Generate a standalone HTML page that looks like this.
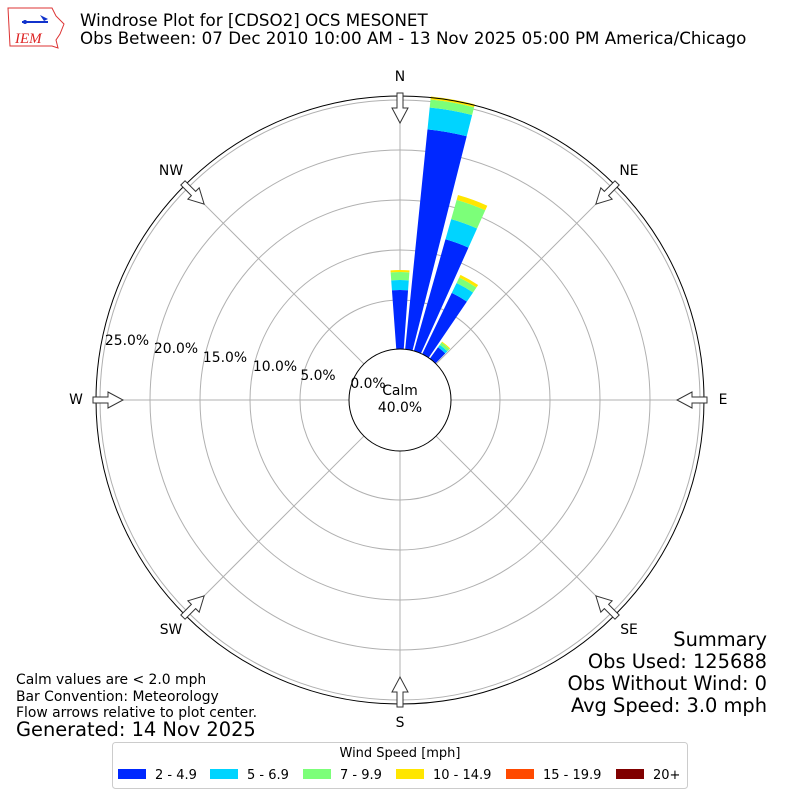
<!DOCTYPE html>
<html><head><meta charset="utf-8"><style>
body{margin:0;background:#fff;}
svg{display:block;font-family:"DejaVu Sans","Liberation Sans",sans-serif;}
</style></head><body>
<svg id="s" width="800" height="800" viewBox="0 0 800 800" xmlns="http://www.w3.org/2000/svg">
<rect width="800" height="800" fill="#fff"/>
<path d="M8 8 L52 8 L56 16 L64 24 L60 34 L56 40 L58 48 L52 46 L10 46 Z" fill="none" stroke="#d33" stroke-width="1"/>
<line x1="22" y1="22" x2="48" y2="22" stroke="#1133cc" stroke-width="2"/>
<circle cx="25" cy="22" r="2" fill="#1133cc"/>
<path d="M40 15 L48 19 L44 21 Z" fill="#1133cc"/>
<text x="15" y="43" font-family="Liberation Serif,serif" font-style="italic" font-size="15" fill="#d22">IEM</text>
<text x="80" y="26" font-size="16.7">Windrose Plot for [CDSO2] OCS MESONET</text>
<text x="80" y="44" font-size="16.7">Obs Between: 07 Dec 2010 10:00 AM - 13 Nov 2025 05:00 PM America/Chicago</text>
<g id="grid" fill="none" stroke="#b0b0b0" stroke-width="1">
<circle cx="400" cy="400" r="100"/><circle cx="400" cy="400" r="150"/><circle cx="400" cy="400" r="200"/><circle cx="400" cy="400" r="250"/><circle cx="400" cy="400" r="300"/>
</g>
<g id="spokes" stroke="#b0b0b0" stroke-width="1"></g>
<g id="bars"></g>
<circle cx="400" cy="400" r="304" fill="none" stroke="#000" stroke-width="1"/>
<circle cx="400" cy="400" r="51" fill="#fff" stroke="#000" stroke-width="1"/>
<text x="400" y="395" font-size="13.9" text-anchor="middle">Calm</text>
<text x="400" y="412" font-size="13.9" text-anchor="middle">40.0%</text>
<g font-size="13.9" text-anchor="middle">
<text x="127" y="345">25.0%</text><text x="176" y="353">20.0%</text><text x="225" y="362">15.0%</text><text x="275" y="371">10.0%</text><text x="318" y="380">5.0%</text><text x="368" y="388">0.0%</text>
<text x="400" y="81">N</text><text x="629" y="175">NE</text><text x="723" y="404">E</text><text x="629" y="634">SE</text><text x="400" y="727">S</text><text x="171" y="634">SW</text><text x="76" y="404">W</text><text x="171" y="175">NW</text>
</g>
<g id="arrows" fill="#fff" stroke="#333" stroke-width="1"></g>
<g font-size="13.9">
<text x="16" y="684">Calm values are &lt; 2.0 mph</text>
<text x="16" y="701">Bar Convention: Meteorology</text>
<text x="16" y="717">Flow arrows relative to plot center.</text>
<text x="16" y="736" font-size="19.4">Generated: 14 Nov 2025</text>
</g>
<g font-size="19.4" text-anchor="end">
<text x="767" y="646">Summary</text>
<text x="767" y="668">Obs Used: 125688</text>
<text x="767" y="690">Obs Without Wind: 0</text>
<text x="767" y="712">Avg Speed: 3.0 mph</text>
</g>
<rect x="112.5" y="742.5" width="575" height="46" rx="3" fill="#fff" stroke="#ccc"/>
<text x="400" y="757" font-size="13" text-anchor="middle">Wind Speed [mph]</text>
<g font-size="13">
<rect x="118" y="769" width="28" height="10" fill="#0028ff"/><text x="155" y="779">2 - 4.9</text>
<rect x="210" y="769" width="28" height="10" fill="#00d4ff"/><text x="247" y="779">5 - 6.9</text>
<rect x="303" y="769" width="28" height="10" fill="#7cff79"/><text x="340" y="779">7 - 9.9</text>
<rect x="396" y="769" width="28" height="10" fill="#ffe600"/><text x="433" y="779">10 - 14.9</text>
<rect x="506" y="769" width="28" height="10" fill="#ff4a00"/><text x="543" y="779">15 - 19.9</text>
<rect x="616" y="769" width="28" height="10" fill="#800000"/><text x="653" y="779">20+</text>
</g>
</svg>
<script>
var NS="http://www.w3.org/2000/svg",cx=400,cy=400;
function pt(r,a){a=a*Math.PI/180;return [cx+r*Math.sin(a),cy-r*Math.cos(a)];}
function el(tag,attrs,parent){var e=document.createElementNS(NS,tag);for(var k in attrs)e.setAttribute(k,attrs[k]);document.getElementById(parent).appendChild(e);}
for(var a=0;a<360;a+=45){var p=pt(51,a),q=pt(300,a);el("line",{x1:p[0],y1:p[1],x2:q[0],y2:q[1]},"spokes");}
var cols=["#0028ff","#00d4ff","#7cff79","#ffe600"];
var bars=[[0,[110,120,128,130]],[10,[272,294,302,305]],[20,[167,188,208,213]],[30,[119,130,136,139]],[40,[65,68,71,72]]];
bars.forEach(function(b){var a=b[0],r0=50,h=4.2;
b[1].forEach(function(r,i){var p1=pt(r0,a-h),p2=pt(r,a-h),p3=pt(r,a+h),p4=pt(r0,a+h);
el("path",{d:"M"+p1+"L"+p2+"A"+r+","+r+" 0 0 1 "+p3+"L"+p4+"A"+r0+","+r0+" 0 0 0 "+p1+"Z",fill:cols[i]},"bars");r0=r;});});
for(var a=0;a<360;a+=45){var g=document.createElementNS(NS,"path");
g.setAttribute("d","M-3,-307 L3,-307 L3,-292 L8,-292 L0,-277 L-8,-292 L-3,-292 Z");
g.setAttribute("transform","translate(400,400) rotate("+a+")");document.getElementById("arrows").appendChild(g);}
</script>
</body></html>
